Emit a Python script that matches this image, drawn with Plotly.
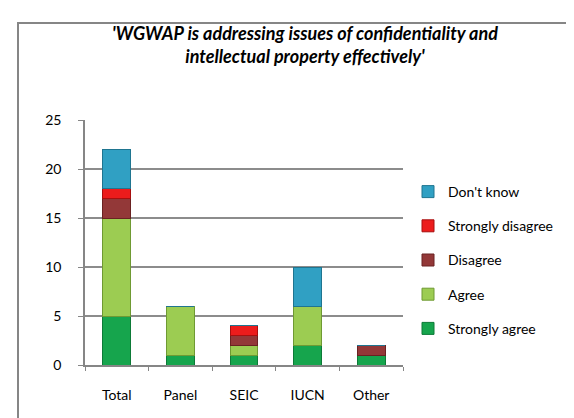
import plotly.graph_objects as go

categories = ["Total", "Panel", "SEIC", "IUCN", "Other"]
strongly_agree = [5, 1, 1, 2, 1]
agree = [10, 5, 1, 4, 0]
disagree = [2, 0, 1, 0, 1]
strongly_disagree = [1, 0, 1, 0, 0]
dont_know = [4, 0, 0, 4, 0]

series = [
    ("Strongly agree", strongly_agree, "#16a54d", "#0d7a37"),
    ("Agree", agree, "#9ccc52", "#6f9a33"),
    ("Disagree", disagree, "#933838", "#6a2222"),
    ("Strongly disagree", strongly_disagree, "#ec1c1c", "#a80f0f"),
    ("Don't know", dont_know, "#30a0c3", "#1f7590"),
]

FONT = "Lato"
fig = go.Figure()
n = len(series)
for i, (name, vals, col, edge) in enumerate(series):
    fig.add_trace(go.Bar(
        x=categories, y=vals, name=name, legendgroup=name, legendrank=n - i,
        marker=dict(color=col, line=dict(color=edge, width=1)),
    ))

W, H = 574, 418
L, R, T, B = 77, 179, 112, 61
pw, ph = W - L - R, H - T - B

def px_x(p):
    return (p - L) / pw

def px_y(p):
    return (H - B - p) / ph

fig.add_shape(type="rect", xref="paper", yref="paper",
              x0=px_x(10), x1=px_x(590), y0=px_y(430), y1=px_y(15),
              line=dict(color="#868686", width=2), fillcolor="rgba(0,0,0,0)",
              layer="below")

fig.update_layout(
    width=W, height=H,
    margin=dict(l=L, r=R, t=T, b=B, autoexpand=False),
    paper_bgcolor="white", plot_bgcolor="white",
    barmode="stack", bargap=0.56,
    font=dict(family=FONT, size=14, color="#000000"),
    title=dict(
        text="<b><i>'WGWAP is addressing issues of confidentiality and<br>intellectual property effectively'</i></b>",
        x=297 / W, xanchor="center", xref="container",
        y=1 - 32 / H, yanchor="top", yref="container",
        font=dict(family=FONT, size=18, color="#000000"),
    ),
    legend=dict(
        x=px_x(400), xanchor="left", y=px_y(168), yanchor="top",
        traceorder="grouped", tracegroupgap=13,
        font=dict(family=FONT, size=14, color="#000000"),
        bgcolor="rgba(0,0,0,0)", itemwidth=30,
    ),
    xaxis=dict(
        showline=True, linecolor="#868686", linewidth=1.5,
        ticks="outside", tickson="boundaries", ticklen=4, tickcolor="#868686",
        showgrid=False, ticklabelstandoff=16,
    ),
    yaxis=dict(
        range=[0, 25], dtick=5, showline=True, linecolor="#868686", linewidth=1.5,
        showgrid=True, gridcolor="#8c8c8c", gridwidth=1.5,
        ticks="outside", ticklen=5, tickcolor="#868686",
        zeroline=False, ticklabelstandoff=14,
    ),
)

fig.write_html("out.html")
